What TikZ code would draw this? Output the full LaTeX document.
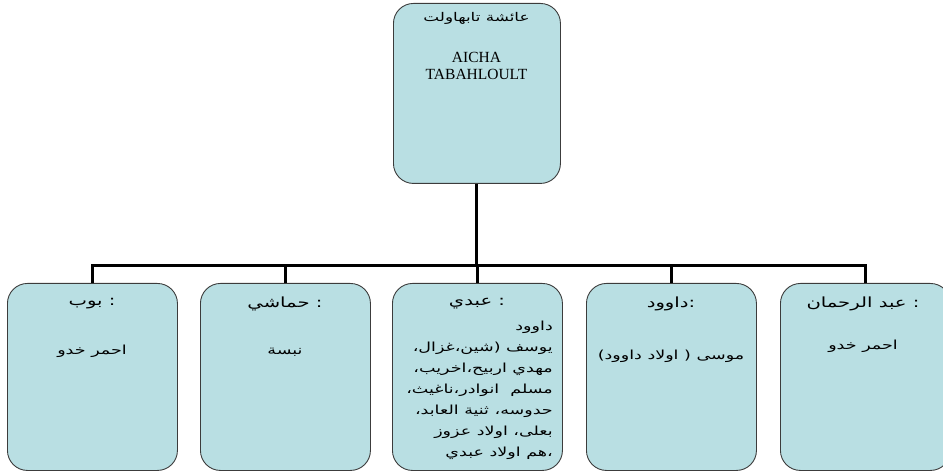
\documentclass[tikz,border=0pt]{standalone}
\usepackage{fontspec}
\setmainfont{Liberation Serif}
\newfontfamily\arabicfont[Script=Arabic,FakeStretch=1.4]{DejaVu Sans}
\TeXXeTstate=1
\definecolor{boxfill}{RGB}{185,223,227}
\definecolor{boxline}{RGB}{60,60,60}
% an Arabic run, set right to left
\newcommand{\rw}[1]{\beginR #1\endR}
\begin{document}
\begin{tikzpicture}[x=1pt,y=-1pt,
  box/.style={draw=boxline, fill=boxfill, rounded corners=20pt, line width=0.9pt,
    minimum width=170pt, minimum height=187pt, anchor=north west, inner sep=0pt},
  link/.style={line width=3pt},
  title/.style={font=\arabicfont\fontsize{12}{14}\selectfont, inner sep=0pt},
  head/.style={font=\arabicfont\fontsize{14}{16}\selectfont, inner sep=0pt},
  body/.style={font=\arabicfont\fontsize{12.5}{14}\selectfont, inner sep=0pt},
  latin/.style={font=\fontsize{15.5}{17}\selectfont, inner sep=0pt}]
\useasboundingbox (0,0) rectangle (943,473);
\clip (0,0) rectangle (943,473);

% top box
\node[box, minimum width=167pt, minimum height=180pt] (top) at (393,3) {};
\node[title] (toptitle) at (476.5,18) {\rw{عائشة تابهاولت}};
\node[latin] (topa) at (476.5,57) {AICHA};
\node[latin] (topb) at (476.5,74) {TABAHLOULT};

% bottom boxes
\node[box] (b1) at (7,283) {};
\node[box] (b2) at (200,283) {};
\node[box] (b3) at (392,283) {};
\node[box] (b4) at (586,283) {};
\node[box] (b5) at (780,283) {};

% connectors
\coordinate (hub) at (477,266);
\draw[link] (top.south) -- (top.south |- hub);
\draw[link] (b1.north) |- (b5.north |- hub) -- (b5.north);
\foreach \b in {b2,b3,b4} \draw[link] (\b.north) -- (\b.north |- hub);

% box 1
\node[head] (h1) at (92,304) {\rw{بوب} :};
\node[body] (t1) at (92,351) {\rw{احمر خدو}};
% box 2
\node[head] (h2) at (285,304) {\rw{حماشي} :};
\node[body] (t2) at (285,352) {\rw{نبسة}};
% box 3
\node[head] (h3) at (477,304) {\rw{عبدي} :};
\node[body, anchor=east] (l1) at (553,327) {\rw{داوود}};
\node[body, anchor=east] (l2) at (553,348) {\rw{يوسف (شين،غزال،}};
\node[body, anchor=east] (l3) at (553,369) {\rw{مهدي اربيح،اخريب،}};
\node[body, anchor=east] (l4) at (553,390) {\rw{مسلم\ \ انوادر،ناغيث،}};
\node[body, anchor=east] (l5) at (553,411) {\rw{حدوسه، ثنية العابد،}};
\node[body, anchor=east] (l6) at (553,432) {\rw{بعلى، اولاد عزوز}};
\node[body, anchor=east] (l7) at (553,453) {\rw{،هم اولاد عبدي}};
% box 4
\node[head] (h4) at (671,304) {\rw{داوود}:};
\node[body] (t4) at (671,356) {\rw{موسى ( اولاد داوود)}};
% box 5
\node[head] (h5) at (863,304) {\rw{عبد الرحمان} :};
\node[body] (t5) at (863,346) {\rw{احمر خدو}};
\end{tikzpicture}
\end{document}
